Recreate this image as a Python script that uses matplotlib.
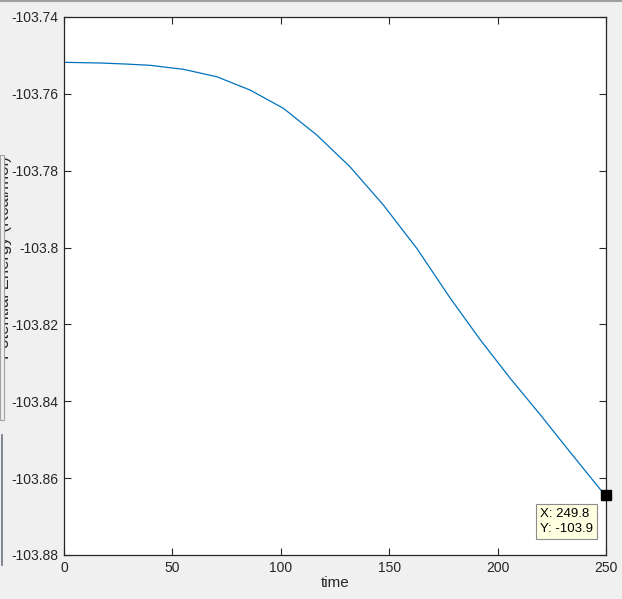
import matplotlib.pyplot as plt
from matplotlib.patches import Rectangle
from matplotlib.lines import Line2D

plt.rcParams['font.family'] = ['Liberation Sans', 'DejaVu Sans']

# values
time = [0, 16.6, 28.1, 39.7, 55.0, 70.4, 85.8, 101.2, 116.6, 131.9, 147.3,
        162.7, 178.0, 191.9, 205.7, 219.6, 233.4, 247.6, 249.8]
energy = [-103.75179, -103.75197, -103.75223, -103.75257, -103.75361,
          -103.75553, -103.75900, -103.76376, -103.77071, -103.77896,
          -103.78892, -103.80019, -103.81304, -103.82392, -103.83394,
          -103.84344, -103.85320, -103.86309, -103.86450]
tip_x, tip_y = 249.8, -103.8645

xticks = [0, 50, 100, 150, 200, 250]
yticks = [-103.88, -103.86, -103.84, -103.82, -103.8, -103.78, -103.76, -103.74]
ytick_labels = ['-103.88', '-103.86', '-103.84', '-103.82', '-103.8',
                '-103.78', '-103.76', '-103.74']

W, H = 622, 599
fig = plt.figure(figsize=(W / 100, H / 100), dpi=100, facecolor='#f0f0f0')
ax = fig.add_axes([64 / W, 1 - 555 / H, (606 - 64) / W, (555 - 17) / H])

ax.plot(time, energy, color='#0072bd', lw=0.9)
ax.plot([tip_x], [tip_y], marker='s', ms=7, color='black', clip_on=False, zorder=5)
ax.annotate('X: 249.8\nY: -103.9', xy=(tip_x, tip_y), xytext=(-47, -9),
            textcoords='offset points', ha='left', va='top', fontsize=9.5,
            linespacing=1.35,
            bbox=dict(boxstyle='square,pad=0.3', fc='#ffffe1', ec='#8c8c8c', lw=0.8))

ax.set_xlim(0, 250)
ax.set_ylim(-103.88, -103.74)
ax.set_xticks(xticks)
ax.set_yticks(yticks)
ax.set_yticklabels(ytick_labels)
ax.tick_params(direction='in', length=5, width=0.8, top=True, right=True,
               labelsize=10, colors='#262626', pad=4)
for s in ax.spines.values():
    s.set_color('#262626')
    s.set_linewidth(0.9)
ax.set_xlabel('time', fontsize=11, color='#262626', labelpad=1)

# panel at the left edge, with the y label partly hidden behind it
fig.text(4.5 / W, 1 - 258 / H, 'Potential Energy (Kcal/mol)', rotation=90,
         ha='center', va='center', fontsize=12, color='#262626')
fig.patches.append(Rectangle((0, 1 - 420 / H), 3.5 / W, 265 / H, transform=fig.transFigure,
                             fc='#f0f0f0', ec='#a0a0a0', lw=0.8, zorder=5))
fig.lines.append(Line2D([1.5 / W, 1.5 / W], [1 - 565 / H, 1 - 435 / H],
                        transform=fig.transFigure, color='#6d7289', lw=1.2))
fig.lines.append(Line2D([0, 1], [1 - 0.5 / H, 1 - 0.5 / H],
                        transform=fig.transFigure, color='#a0a0a0', lw=1.5))

fig.savefig('out.png', dpi=100, facecolor=fig.get_facecolor())
